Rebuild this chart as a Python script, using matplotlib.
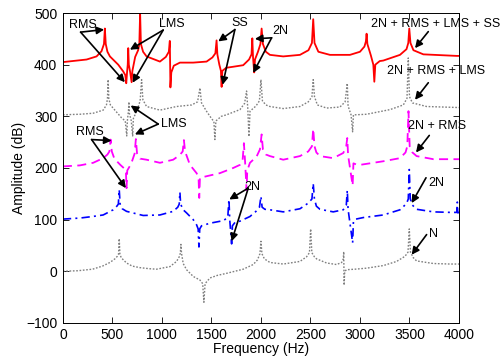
import matplotlib
matplotlib.use("Agg")
import matplotlib.pyplot as plt

plt.rcParams['font.family'] = ['Liberation Sans', 'DejaVu Sans']

# ---- spectra (frequency in Hz, amplitude in dB, each case offset by 100 dB) ----
n_freq = [0, 150, 300, 400, 475, 525, 550, 562, 569, 576, 590, 643, 700, 778, 870, 946,
          1081, 1148, 1175, 1186, 1192, 1198, 1215, 1249, 1316, 1384, 1412, 1424, 1436,
          1485, 1560, 1653, 1821, 1922, 1965, 1990, 2000, 2010, 2035, 2091, 2226, 2394,
          2461, 2490, 2502, 2514, 2540, 2562, 2663, 2764, 2815, 2832, 2836, 2840, 2846,
          2865, 2950, 3067, 3236, 3370, 3455, 3485, 3498, 3510, 3540, 3572, 3741, 3909, 4000]
n_amp = [0, 1, 4, 10, 17, 24, 29, 33, 63, 33, 26, 16, 10, 7, 5, 4,
         9, 19, 28, 35, 52, 35, 15, 3, -10, -17, -24, -60, -24,
         -13, -8, -4, 4, 13, 22, 34, 58, 34, 24, 17, 14, 19,
         28, 36, 82, 36, 28, 24, 16, 13, 17, 24, 38, -27, 0,
         3, 4, 6, 11, 19, 29, 37, 82, 37, 26, 20, 15, 14, 14]

n2_freq = [0, 172, 300, 407, 508, 545, 560, 569, 578, 600, 643, 811, 980, 1114, 1160, 1175,
           1182, 1189, 1215, 1249, 1316, 1350, 1366, 1374, 1382, 1400, 1485, 1620, 1665,
           1677, 1685, 1704, 1712, 1740, 1788, 1889, 1950, 1985, 2000, 2012, 2040, 2091,
           2225, 2394, 2478, 2515, 2528, 2540, 2560, 2596, 2730, 2831, 2862, 2872, 2880,
           2926, 2934, 2960, 3034, 3236, 3404, 3470, 3488, 3498, 3508, 3530, 3572, 3741,
           3909, 3978, 3983, 3988, 4000]
n2_amp = [101, 103, 106, 109, 119, 126, 130, 158, 130, 121, 116, 108, 109, 116, 124, 130,
          153, 130, 119, 113, 100, 90, 82, 47, 82, 88, 93, 98, 104,
          139, 100, 53, 88, 95, 97, 106, 116, 124, 145, 124, 120, 119,
          115, 121, 132, 140, 170, 140, 126, 120, 115, 119, 128, 157, 120,
          55, 97, 101, 104, 109, 119, 131, 140, 197, 140, 128, 120, 115,
          114, 114, 134, 113, 114]

rms_freq = [0, 172, 306, 407, 450, 470, 482, 494, 520, 580, 620, 636, 643, 650, 680, 700,
            725, 737, 749, 780, 845, 980, 1114, 1180, 1210, 1222, 1234, 1283, 1350, 1370,
            1377, 1384, 1451, 1586, 1720, 1788, 1815, 1828, 1840, 1855, 1862, 1889, 1956,
            1990, 2007, 2020, 2050, 2091, 2225, 2394, 2478, 2515, 2528, 2541, 2560, 2596,
            2730, 2831, 2860, 2872, 2880, 2926, 2934, 2960, 3000, 3236, 3404, 3460, 3478,
            3490, 3502, 3530, 3572, 3741, 4000]
rms_amp = [203, 205, 210, 219, 226, 232, 255, 232, 218, 206, 199, 195, 161, 195, 205, 214,
           228, 256, 228, 218, 216, 210, 216, 225, 232, 254, 232, 206, 190, 182,
           142, 181, 184, 190, 200, 206, 215, 248, 212, 157, 195, 210, 222,
           236, 265, 236, 226, 223, 216, 223, 232, 242, 276, 242, 230, 223,
           219, 229, 240, 258, 225, 166, 209, 207, 206, 213, 219, 230, 242,
           310, 242, 230, 223, 217, 217]

lms_freq = [0, 172, 306, 407, 440, 450, 457, 464, 480, 525, 593, 630, 645, 652, 662, 667,
            672, 690, 705, 712, 750, 780, 795, 808, 845, 980, 1148, 1300, 1360, 1384, 1400,
            1450, 1500, 1525, 1535, 1545, 1600, 1653, 1788, 1835, 1855, 1867, 1879, 1890,
            1950, 1985, 2000, 2015, 2050, 2091, 2225, 2394, 2478, 2515, 2528, 2541, 2570,
            2663, 2798, 2850, 2872, 2880, 2910, 2926, 2934, 2960, 3067, 3303, 3438, 3475,
            3488, 3500, 3530, 3673, 4000]
lms_amp = [303, 304, 306, 312, 322, 334, 371, 334, 322, 312, 297, 291, 262, 293, 310, 328,
           305, 292, 262, 296, 312, 330, 371, 332, 319, 312, 319, 322, 328, 355, 326,
           310, 296, 290, 255, 291, 300, 303, 313, 325, 349, 316, 261, 310,
           320, 330, 371, 330, 322, 319, 315, 319, 328, 338, 371, 338, 322,
           316, 318, 328, 364, 320, 303, 270, 303, 303, 304, 313, 322, 335,
           413, 338, 326, 319, 317]

ss_freq = [0, 240, 340, 390, 415, 424, 433, 450, 475, 559, 609, 630, 640, 648, 655, 660,
           666, 680, 694, 702, 730, 760, 772, 780, 788, 810, 845, 980, 1040, 1070, 1080,
           1086, 1095, 1120, 1182, 1316, 1451, 1510, 1540, 1552, 1560, 1580, 1596, 1603,
           1610, 1650, 1720, 1821, 1880, 1905, 1913, 1920, 1932, 1940, 1970, 1995, 2007,
           2020, 2050, 2091, 2225, 2394, 2480, 2515, 2528, 2541, 2580, 2697, 2899, 3000,
           3045, 3060, 3067, 3075, 3110, 3135, 3145, 3155, 3200, 3236, 3404, 3470, 3488,
           3498, 3510, 3540, 3640, 3976, 4000]
ss_amp = [405, 410, 416, 426, 440, 470, 440, 425, 416, 400, 387, 380, 364, 385, 400, 432,
          400, 385, 366, 388, 415, 428, 440, 500, 440, 425, 416, 406, 415, 425, 446,
          356, 385, 398, 404, 404, 406, 414, 422, 447, 420, 400, 388, 357,
          388, 394, 396, 399, 410, 420, 451, 415, 385, 410, 425, 440, 470,
          440, 425, 419, 416, 419, 428, 442, 488, 442, 425, 419, 419, 425,
          435, 445, 460, 440, 418, 400, 367, 400, 407, 408, 419, 430, 442,
          470, 442, 428, 420, 417, 417]

x_ticks = [0, 500, 1000, 1500, 2000, 2500, 3000, 3500, 4000]
y_ticks = [-100, 0, 100, 200, 300, 400, 500]

fig = plt.figure(figsize=(5.03, 3.62), dpi=100)
ax = fig.add_axes([0.125, 0.108, 0.7875, 0.856])

ax.plot(n_freq, n_amp, color='#808080', lw=1.0, dashes=(1.2, 1.2))
ax.plot(n2_freq, n2_amp, color='#0000ff', lw=1.2, dashes=(5, 2.5, 1.2, 2.5))
ax.plot(rms_freq, rms_amp, color='#ff00ff', lw=1.3, dashes=(5, 3))
ax.plot(lms_freq, lms_amp, color='#808080', lw=1.0, dashes=(1.2, 1.2))
ax.plot(ss_freq, ss_amp, '-', color='#ff0000', lw=1.3)

ax.set_xlim(0, 4000)
ax.set_ylim(-100, 500)
ax.set_xticks(x_ticks)
ax.set_yticks(y_ticks)
ax.tick_params(direction='in', length=4, width=0.6, top=True, right=True,
               labelsize=10, pad=4)
for sp in ax.spines.values():
    sp.set_linewidth(0.7)

ax.set_xlabel('Frequency (Hz)', fontsize=10)
ax.set_ylabel('Amplitude (dB)', fontsize=10)
ax.xaxis.set_label_coords(0.5, -0.062)
ax.yaxis.set_label_coords(-0.092, 0.5)

arrow_kw = dict(arrowstyle='-|>', color='k', lw=1.2, mutation_scale=11,
                shrinkA=0, shrinkB=0)

# label text, text centre, arrow start, arrow tips
notes = [
    ('RMS', (202, 476), (179, 463), [(417, 468), (626, 366)]),
    ('LMS', (1101, 478), (1013, 467), [(677, 429), (704, 365)]),
    ('SS', (1786, 480), (1737, 468), [(1569, 445), (1613, 361)]),
    ('2N', (2197, 465), (2108, 452), [(1939, 450), (1922, 384)]),
    ('2N + RMS + LMS + SS', (3766, 478), (3690, 464), [(3556, 432)]),
    ('2N + RMS + LMS', (3771, 387), (3690, 365), [(3556, 332)]),
    ('2N + RMS', (3775, 282), (3700, 263), [(3566, 230)]),
    ('2N', (3770, 171), (3667, 181), [(3522, 132)]),
    ('N', (3741, 73), (3673, 71), [(3522, 32)]),
    ('LMS', (1119, 285), (963, 285), [(684, 321), (727, 265)]),
    ('RMS', (273, 269), (290, 255), [(492, 253), (636, 161)]),
    ('2N', (1914, 164), (1872, 161), [(1680, 139), (1704, 58)]),
]

for label, pos, start, tips in notes:
    ax.text(pos[0], pos[1], label, fontsize=9, ha='center', va='center',
            clip_on=False)
    for tip in tips:
        ax.annotate('', xy=tip, xytext=start, arrowprops=arrow_kw,
                    annotation_clip=False)

fig.savefig('out.png', dpi=100)
